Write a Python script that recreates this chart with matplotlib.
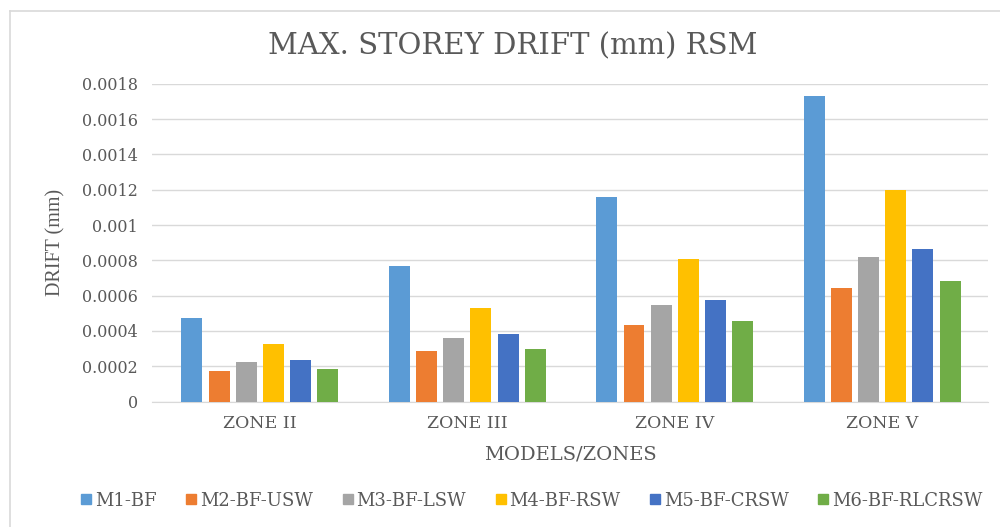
import matplotlib
matplotlib.use("Agg")
import matplotlib.pyplot as plt
import numpy as np
from matplotlib.lines import Line2D

zones = ["ZONE II", "ZONE III", "ZONE IV", "ZONE V"]
series = ["M1-BF", "M2-BF-USW", "M3-BF-LSW", "M4-BF-RSW", "M5-BF-CRSW", "M6-BF-RLCRSW"]
m1 = [0.000476, 0.000767, 0.001156, 0.00173]
m2 = [0.000176, 0.000286, 0.000436, 0.000646]
m3 = [0.000226, 0.000360, 0.000545, 0.000818]
m4 = [0.000328, 0.000530, 0.000805, 0.001200]
m5 = [0.000237, 0.000380, 0.000578, 0.000866]
m6 = [0.000186, 0.000300, 0.000455, 0.000682]
values = [m1, m2, m3, m4, m5, m6]
colors = ["#5B9BD5", "#ED7D31", "#A5A5A5", "#FFC000", "#4472C4", "#70AD47"]
yticks = [0, 0.0002, 0.0004, 0.0006, 0.0008, 0.001, 0.0012, 0.0014, 0.0016, 0.0018]
ytick_labels = ["0", "0.0002", "0.0004", "0.0006", "0.0008", "0.001", "0.0012", "0.0014", "0.0016", "0.0018"]

plt.rcParams['font.family'] = ['DejaVu Serif']
txt = "#595959"

fig = plt.figure(figsize=(10, 5.27), dpi=100)
ax = fig.add_axes([0.152, 0.238, 0.836, 0.603])

x = np.arange(len(zones))
step = 0.131
width = 0.101
for i, (vals, c, name) in enumerate(zip(values, colors, series)):
    ax.bar(x + (i - 2.5) * step, vals, width=width, color=c, label=name, zorder=3)

ax.set_xlim(-0.52, 3.51)
ax.set_ylim(0, 0.0018)
ax.set_yticks(yticks)
ax.set_yticklabels(ytick_labels)
ax.set_xticks(x)
ax.set_xticklabels(zones)
ax.yaxis.grid(True, color="#D9D9D9", linewidth=1, zorder=0)
for s in ["top", "right", "left"]:
    ax.spines[s].set_visible(False)
ax.spines["bottom"].set_color("#D9D9D9")
ax.tick_params(axis="both", length=0, colors=txt)
ax.tick_params(axis="y", pad=10, labelsize=11.5)
ax.tick_params(axis="x", pad=10, labelsize=12.5)

ax.set_ylabel("DRIFT (mm)", fontsize=14.5, color=txt, family="Liberation Serif")
ax.yaxis.set_label_coords(-0.103, 0.5)
ax.set_xlabel("MODELS/ZONES", fontsize=14, color=txt)
ax.xaxis.set_label_coords(0.5, -0.138)
fig.text(0.513, 0.913, "MAX. STOREY DRIFT (mm) RSM", ha="center", va="center",
         fontsize=21, color=txt)

handles = [Line2D([0], [0], marker="s", linestyle="none", markersize=7,
                  markerfacecolor=c, markeredgecolor=c) for c in colors]
fig.legend(handles, series, loc="center", bbox_to_anchor=(0.53, 0.05), ncol=6,
           frameon=False, fontsize=13, handletextpad=0.0, columnspacing=1.4,
           labelcolor=txt, handlelength=1.0)

# chart border
fig.add_artist(Line2D([0.010, 1.0], [1 - 11 / 527, 1 - 11 / 527], transform=fig.transFigure,
                      color="#D9D9D9", linewidth=1.2))
fig.add_artist(Line2D([0.010, 0.010], [0.0, 1 - 11 / 527], transform=fig.transFigure,
                      color="#D9D9D9", linewidth=1.2))

fig.savefig("out.png", dpi=100)
